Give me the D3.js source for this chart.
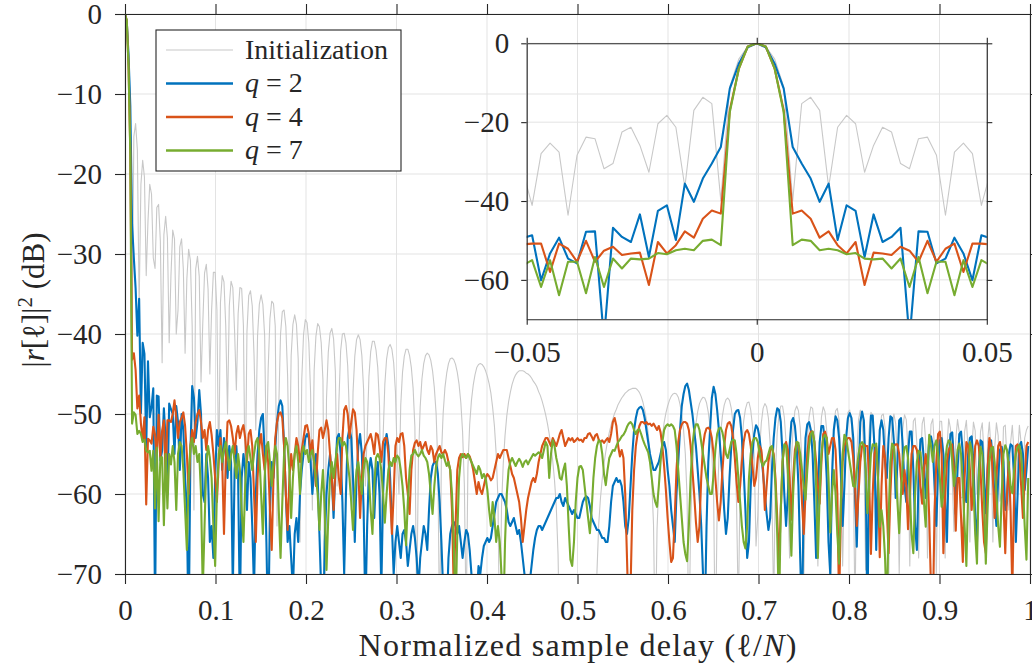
<!DOCTYPE html>
<html><head><meta charset="utf-8">
<script src="https://cdn.jsdelivr.net/npm/d3@7"></script>
<style>
body{margin:0;background:#fff}
svg{display:block}
text{font-family:"Liberation Serif","Times New Roman",serif;fill:#262626}
</style>
</head><body>
<svg id="chart" width="1032" height="667"></svg>
<script>
// number of delay samples (x = k / sampleCount)
const sampleCount = 512;
const seriesNames = ["Initialization", "q = 2", "q = 4", "q = 7"];
const seriesColors = ["#c8c8c8", "#0072BD", "#D95319", "#77AC30"];

const initialization = [
0,-0.8,-4,-11,-39.9,-15.3,-13.7,-17,-36.5,-21.3,
-18.3,-20.4,-32.7,-25.9,-21.3,-22.5,-30.5,-31.8,-24.2,-23.8,
-28.4,-43.6,-27.6,-25.3,-28,-41.1,-32.7,-27,-28.1,-40,
-37,-29.1,-28.1,-31.9,-42.4,-33.1,-29.4,-30.8,-39,-62,
-31.9,-30.3,-32.8,-46,-38.7,-32.4,-31.3,-34.4,-45,-37,
-32.3,-32.3,-37,-58,-36.1,-32.7,-33.5,-39,-50,-36.5,
-33.4,-34.2,-39.7,-47,-37.5,-34.2,-34.3,-39,-60,-39.7,
-35.2,-34.6,-36.5,-42.7,-52,-40.2,-36.3,-35.1,-36.3,-40.2,
-56,-44.3,-38.1,-35.9,-36.2,-39,-64,-49,-40,-37.2,
-37,-39.1,-45.3,-58,-42.7,-38.8,-37.6,-38.8,-43.2,-66,
-45.7,-40.1,-38.2,-38.6,-41.1,-47.3,-62,-44.6,-40.3,-38.7,
-39.1,-41.1,-45.8,-75,-48.1,-42.3,-39.9,-39.3,-40.6,-44.7,
-59,-48.5,-42.1,-40,-39.9,-41.1,-44,-50.4,-62,-47.3,
-42.8,-40.7,-40.1,-40.7,-42.7,-47,-59,-52.5,-45.3,-42.2,
-40.9,-40.9,-42,-44.2,-49,-66,-53,-46.3,-43.1,-41.7,
-41.3,-41.9,-43.6,-47.2,-55.3,-60,-48.9,-44.8,-42.8,-41.9,
-41.9,-42.7,-44.2,-46.8,-51.6,-75,-55.8,-49.1,-45.6,-43.7,
-42.7,-42.4,-42.6,-43.3,-44.6,-46.7,-49.9,-56.4,-78,-55.3,
-49.9,-46.7,-44.9,-43.7,-43.1,-43,-43.2,-43.8,-44.8,-46.3,
-48.6,-52.3,-59,-76,-56.7,-51.3,-48.3,-46.4,-45.1,-44.2,
-43.8,-43.7,-43.8,-44.1,-44.6,-45.3,-46.2,-47.4,-49.2,-51.5,
-55,-60.7,-80,-61.6,-56.2,-52.7,-50.2,-48.5,-47.3,-46.3,
-45.6,-45.1,-44.8,-44.6,-44.6,-44.6,-44.7,-44.9,-45,-45.2,
-45.5,-45.9,-46.2,-46.6,-47.2,-47.7,-48.4,-49.2,-50.1,-51.2,
-52.5,-54,-55.9,-58.3,-61.6,-67.6,-80,-80,-80,-80,
-80,-80,-80,-80,-80,-80,-80,-80,-80,-80,
-80,-80,-80,-80,-80,-80,-80,-69.8,-63.8,-60.5,
-58.1,-56.2,-54.7,-53.4,-52.3,-51.4,-50.6,-49.9,-49.4,-48.8,
-48.4,-48,-47.7,-47.4,-47.2,-47,-46.9,-46.8,-46.8,-46.8,
-47,-47.3,-47.8,-48.5,-49.5,-50.7,-52.4,-54.9,-58.4,-63.8,
-80,-64.4,-58.7,-55.2,-52.9,-51.1,-49.9,-49,-48.3,-47.8,
-47.5,-47.4,-47.5,-47.9,-48.8,-50.1,-52,-55,-60.4,-79,
-63.9,-57.2,-53.5,-51.2,-49.7,-48.7,-48.2,-47.9,-48,-48.6,
-49.8,-51.6,-54.8,-60.2,-80,-62,-55.5,-52.3,-50.2,-48.9,
-48.2,-48,-48.3,-49.3,-51.2,-54.7,-61.4,-75,-58.3,-53.5,
-50.9,-49.4,-48.6,-48.5,-49.5,-51.5,-55.6,-66.5,-62.7,-54.6,
-51.1,-49.3,-48.7,-49.1,-50.5,-53.7,-60.4,-74,-57.1,-52.3,
-50.1,-49,-49,-50.4,-53.5,-60.6,-68,-55.9,-51.6,-49.6,
-49,-49.6,-51.7,-56.2,-71,-59.7,-53.3,-50.4,-49.1,-49.3,
-51.4,-57.8,-69,-54.5,-50.4,-49.1,-49.7,-52.1,-57.9,-79,
-56.3,-51.6,-49.6,-49.3,-50.8,-55.1,-69,-58.5,-52.3,-49.8,
-49.5,-51.3,-56.9,-75,-55.1,-50.7,-49.5,-50.7,-54.5,-69.5,
-58.2,-52,-49.8,-50.1,-52.9,-62,-62.1,-53,-50.2,-50,
-51.7,-56.9,-72,-56.1,-51.2,-50,-51.2,-56.1,-70,-57,
-51.9,-50.1,-50.7,-54.5,-69,-56.3,-50.9,-50.5,-53.7,-68,
-56.7,-51.2,-50.4,-53.5,-68,-56.8,-51.3,-50.6,-54.4,-70,
-55.1,-50.9,-50.9,-55.1,-68,-54.3,-50.6,-51.8,-58.1,-64.7,
-53.2,-50.7,-52.3,-60.5,-60.4,-52.2,-50.8,-54.5,-66,-54.9,
-51,-52.1,-60,-60.1,-52.2,-51.1,-55,-64,-53.4,-51,
-54.7,-66,-54.3,-51.1,-52.7,-60.9,-59.7,-51.6,-51.4,-55.8,
-62,-53.6,-51.4,-55,-60,-55.1,-51.4,-53.7,-58,-53,
-52,-51.5];

const q2 = [
0,-1,-5.2,-11.5,-26.3,-30.5,-34.3,-40.2,-35.6,-49.9,
-41.1,-42.5,-54.2,-43.4,-50.4,-49.1,-46.8,-75,-47.7,-47.8,
-55.8,-54.6,-49.3,-53.3,-60.1,-48.7,-49.4,-50,-55,-49,
-51,-57,-50,-52,-58,-62,-78,-55,-46.5,-48,
-53,-51,-47,-50,-60,-61,-55,-58,-66,-64,
-68,-58,-52,-54,-52,-57,-53,-55,-58,-54,
-56,-72,-57,-54,-58,-75,-58,-55,-57,-62,
-56,-58,-64,-72,-60,-55,-52,-50.5,-50,-55,
-66,-78,-62,-56,-58,-54,-51,-49,-48.3,-49,
-54,-60,-66,-64,-68,-72,-65,-63,-66,-60,
-57,-55,-53,-52.5,-53,-56,-60,-57,-55,-58,
-65,-72,-78,-66,-60,-57,-55,-58,-63,-57,
-53,-52.5,-55,-61,-70,-60,-53,-51.8,-53,-58,
-66,-58,-54,-52.5,-55,-62,-75,-64,-57,-55.5,
-57,-63,-58,-56,-60,-72,-60,-54,-52.5,-54,
-58,-64,-70,-66,-64,-66,-68,-65,-64.5,-66,
-69,-67,-65,-64,-65.5,-68,-72,-68,-66,-64,
-65,-67,-62,-58,-56.5,-56,-56,-57.5,-61,-66,
-72,-78,-75,-68,-65,-64,-63.5,-64,-65,-64,
-66,-68,-66,-64.5,-65,-67,-70,-74,-80,-73,
-69,-70,-68,-66.5,-66,-65.5,-66,-65.5,-64,-62.5,
-61,-60.5,-60,-60,-60.5,-61,-62,-63.5,-64,-63.5,
-63,-64,-65,-64.5,-66,-68,-70,-72,-73,-71,
-69,-67,-65.5,-64.5,-64,-64,-64.5,-64,-63.5,-63,
-62.5,-62,-61.5,-61,-60.5,-60.5,-60,-61,-61.5,-60.5,
-61,-61.5,-62,-62.5,-62,-62.5,-63,-63,-62,-61,
-60.5,-60.3,-60.5,-61.5,-63,-63.5,-64,-64.5,-64.5,-65,
-65.5,-65.5,-66,-66,-64,-61,-59,-58.5,-58,-58.5,
-58.3,-59,-61,-64,-65,-63,-59,-55,-52,-50.5,
-49.5,-49.2,-49.1,-49.5,-50.5,-52,-53.5,-55,-56,-57,
-57,-56.5,-56,-55,-54,-53.5,-54.5,-57,-59,-62,
-64,-66,-60,-56,-52,-49,-47.5,-46.5,-46.2,-47,
-48.5,-50,-52,-54,-57,-60,-64,-70,-76,-64,
-56,-52,-48,-46.6,-47.5,-49.5,-52,-55,-58,-62,
-65,-63,-58,-54,-52,-50,-49.6,-49.5,-50.5,-53,
-57,-62,-68,-66,-59,-55,-52.5,-51.4,-51.8,-53,
-55,-57.5,-60,-62.5,-64.5,-63,-57,-53,-50.5,-49.3,
-49.5,-51,-55,-60,-64,-60,-54,-51,-50.5,-51.5,
-54,-59,-68,-76,-60,-53,-51.3,-51,-52,-55,
-61,-68,-60,-53.5,-51.5,-51.5,-53.5,-58,-66,-70,
-58,-52,-50.3,-50.8,-53,-57.5,-64,-59,-53,-50.5,
-49.9,-50.5,-53,-60,-66.6,-58,-51,-49.7,-50.8,-57,
-76,-56,-50.2,-50.2,-54,-67,-58,-52,-50.8,-52,
-56,-58,-53,-50.3,-50.5,-53.5,-60.5,-56,-50.8,-50.5,
-54,-59,-61,-55,-52.2,-52.2,-57,-64,-67,-58,
-53.2,-53,-56,-60.5,-57,-53.2,-52.8,-54,-59,-64,
-57,-53.3,-53,-55,-61,-66,-56,-52.5,-52.3,-56,
-62.5,-57,-52.5,-52.2,-55,-60,-61,-55,-53,-52.8,
-56,-63,-66,-57,-53.3,-53.5,-58,-62.4,-57,-53.5,
-53.3,-56,-61,-64,-58,-54.5,-54.1,-56,-62,-61,
-55,-53.8,-54,-58,-66,-60,-54,-53.5,-55,-59.5,
-57,-54];

const q4 = [
0,-0.8,-6.5,-17,-43.2,-42.4,-44.5,-49.3,-47.7,-51.2,
-53.3,-50.4,-61.3,-53.1,-53.3,-53.7,-51.6,-52.6,-55.4,-50.1,
-55.4,-52.1,-50.8,-58,-50.8,-50.8,-51,-50,-48.3,-50.5,
-53,-51,-50.5,-49.8,-51.5,-55,-60,-54,-52,-53.5,
-51,-50,-49.5,-51,-53,-52,-54.5,-52,-51,-52.6,
-55,-58,-61,-56,-53,-56,-65,-56,-51,-50.8,
-51.5,-53,-55,-52.5,-51.5,-53,-52,-51.4,-53,-56,
-52.5,-52,-54,-60,-66,-58,-54,-52.5,-55,-57,
-54,-56,-62,-67,-58,-53,-51,-50,-49.8,-50.5,
-54,-60,-64.5,-58,-55,-57,-55,-53,-54,-56,
-54.5,-53,-51.5,-51.4,-52.5,-55,-53.3,-56,-59,-55,
-52,-51.7,-53,-52,-50.8,-52,-55,-58,-62,-57,
-55,-58,-60,-53,-49.5,-49,-50,-53,-51,-49.4,
-49.8,-52,-57,-63,-58,-55,-54,-53.5,-53,-52.5,
-53.5,-55,-52.4,-52.6,-54,-56,-53.5,-53,-53,-55,
-60,-65,-60,-54,-53,-53.5,-52.5,-52.4,-54,-58,
-60,-62.5,-57,-54.5,-53.6,-53.3,-54,-53.5,-54.5,-54,
-53.5,-54.5,-55,-54,-54.5,-56,-55,-54.5,-54,-54.8,
-55,-54.5,-55,-56,-57,-62,-72,-64,-57,-55.5,
-55,-55.4,-55,-55.5,-55,-55.3,-56,-57,-58.5,-60,
-58.5,-59.5,-60,-59,-58,-57.5,-57.8,-58.3,-58,-57,
-56,-55,-55.5,-55,-54.5,-54.5,-54.5,-55.5,-56.5,-57.5,
-58,-59,-60,-61,-63,-66,-64,-62,-60.5,-59.5,
-58.5,-58,-58.5,-57.5,-56,-55,-54,-53.5,-53,-53,
-53.5,-54,-53,-53.5,-54,-53.3,-52.5,-52,-53,-54,
-53.5,-53,-53.3,-53,-53.5,-53.3,-53,-53.3,-53.2,-53.5,
-53,-53,-52.5,-52.4,-52.8,-53.3,-52.7,-52.5,-53.2,-53.5,
-53.3,-53.6,-53.3,-53,-53.5,-52.5,-51,-50.5,-51.5,-54,
-55.3,-54.5,-55.5,-60,-68,-76,-72,-62,-57,-54,
-52.5,-51.5,-51,-51,-51.2,-51,-51.3,-51.2,-51.5,-51.2,
-51.6,-52,-51.5,-52.3,-54,-56.5,-59.5,-63,-66,-68.5,
-68,-63,-57,-53.5,-52,-51.3,-51,-51,-51.2,-52,
-54,-57,-60,-63.5,-66,-64,-58,-54,-52.5,-51.8,
-51.7,-52,-53,-55,-58,-61,-63.3,-61,-57,-54,
-52,-51.2,-51,-51.5,-53,-55.5,-58.5,-61,-59,-56,
-53.5,-52.3,-52,-52.5,-54,-56.5,-59,-58,-55.5,-54,
-54.5,-57,-62,-59,-56,-54.5,-54.2,-55,-58,-63,
-68.6,-62,-56,-54,-53.5,-54.5,-58,-63.2,-58,-54.5,
-53.5,-54,-56.5,-61,-65,-60,-55,-52.8,-52.2,-52.2,
-53.5,-56,-59,-61.2,-56,-52.5,-52.2,-53,-55,-54,
-53,-53,-54.5,-60,-74,-62,-56,-54,-53.3,-53,
-53,-53.5,-55.5,-59,-64,-60,-56,-54,-53.8,-54,
-54,-58,-67.5,-60,-55,-54,-58,-67.9,-59,-54,
-55.5,-62,-67.4,-60,-55,-54,-53.8,-53.8,-55,-58,
-60,-57,-59,-64.4,-60,-55,-54,-54,-54.5,-56,
-59,-61.2,-57,-55,-57,-63,-72,-76,-62,-56,
-52.5,-52.2,-55,-67.4,-60,-56,-54.5,-54,-53.8,-57,
-64.6,-58,-58,-63,-68.5,-58,-53.5,-54,-57,-62,
-58,-54,-53.3,-54,-57,-62,-66,-67.4,-57,-53,
-54,-58,-63,-58,-54,-53.5,-55,-61,-67.4,-60,
-56,-62,-72,-60,-54,-53.8,-55,-59,-63,-58,
-54,-53.5];

const q7 = [
0,-0.8,-6.5,-17.5,-51.2,-49.8,-50.1,-52.5,-52.1,-52.5,
-53.5,-53.2,-54.6,-54.8,-54.6,-57.1,-54.6,-61.8,-54.2,-63.4,
-55.4,-55.4,-63.9,-55,-61.8,-55,-56.3,-54,-56,-62,
-55,-53.5,-54,-57,-62,-67,-58,-54,-53,-55,
-54,-56,-55,-60,-72,-64,-56,-54,-55.5,-58,
-64,-69,-60,-55,-54,-56,-54.5,-53.5,-55,-57,
-55,-54,-56,-58,-55,-57,-62,-66,-59,-55,
-54,-55.5,-57,-55,-53.5,-53,-55,-60,-65,-58,
-54,-53.5,-56,-59,-56,-54,-55,-62,-68,-61,
-55,-53,-54,-57,-63,-58,-55,-54,-56,-60,
-55,-54,-55,-54.5,-56,-55,-54.5,-56,-58,-60,
-64.5,-60,-57,-62,-69.5,-63,-58,-56,-58,-56,
-54,-53,-53,-54,-53.5,-54,-56,-58,-61,-64.5,
-60,-57,-56,-58,-60,-57,-55.5,-56,-58,-62,
-65,-59,-55.5,-55,-55.5,-57,-60,-63.6,-60,-57,
-56,-56.5,-55.5,-56,-55.2,-55.5,-57,-59,-62,-66.4,
-61,-57,-55.2,-55,-54.5,-55,-55.3,-55,-54.5,-55.2,
-55.5,-56,-57.5,-60,-62.5,-59,-56.5,-55.5,-55,-55.5,
-55,-55.8,-56.5,-56,-57,-60,-66,-75,-65,-58,
-55.5,-55,-55.3,-55.5,-55,-55.5,-56,-56.5,-57,-57.5,
-56.5,-57,-58,-57.5,-58,-59.5,-62,-64,-61,-63,
-66,-64,-66,-70,-76,-66,-60,-57,-56,-55.5,
-56,-56.5,-56,-55.6,-56,-56.6,-56,-55.8,-56.3,-55.8,
-55.4,-55,-55.2,-55,-54.8,-55,-55.5,-54.5,-53.5,-54,
-58,-55,-53.3,-54,-55.5,-56.5,-58,-58.2,-57,-56.2,
-59,-64,-68.2,-69,-66,-61,-58,-56.6,-56.5,-57,
-59,-61,-63,-64.9,-62,-58,-55.5,-54,-53.3,-53.5,
-55,-57.5,-58.9,-57,-55.5,-55,-54.5,-54.6,-54,-53.5,
-53.2,-52.8,-52.6,-52.2,-51.6,-51.2,-51,-51.3,-52,-52.5,
-52,-51.9,-52.5,-53.2,-53.8,-54.3,-54.8,-56,-58,-60,
-61,-61.6,-59,-56,-53.5,-52,-51.5,-51.3,-51.5,-51.3,
-51.5,-52,-54,-57,-60,-63,-66,-67.5,-68.4,-64,
-58,-54,-52,-51.3,-51.3,-52,-53.5,-55,-56.5,-58,
-59,-60,-60,-57.5,-54.5,-52.5,-51.8,-51.7,-52.3,-53.5,
-55,-55.5,-54.5,-53.5,-53.2,-53.3,-55,-58,-61,-64,
-66,-66.8,-64,-58,-55,-53.5,-53,-53,-53.5,-55,
-56,-56.5,-56,-55.8,-55,-54.2,-54,-55.5,-59,-65,
-75,-62,-56,-53.8,-54,-57,-62,-67.7,-60,-55.5,
-53.5,-53.6,-55,-57,-59,-60.7,-57,-54,-52.5,-52.2,
-53.5,-59,-68,-60,-55,-53,-52.6,-53,-58,-64.8,
-60,-57,-60,-65,-68.7,-61,-55,-52.6,-53,-54.5,
-56,-57.5,-59,-59.1,-57,-55,-53.8,-53.5,-54,-57,
-62.4,-59,-55,-53.8,-54,-53.7,-58,-64.1,-62,-64,
-68,-75,-63,-56,-53.7,-54,-57,-61,-64.9,-60,
-56,-54.2,-54,-55.5,-60,-65,-67.4,-60,-56,-54.6,
-54.8,-57,-61,-64.1,-57,-52.6,-54,-56,-54,-53.3,
-55,-58,-61.6,-60,-56,-54,-53.3,-53.5,-56,-59,
-57,-54.5,-53.7,-55,-59,-64,-69,-60,-53.5,-54.5,
-59,-65,-68.7,-58,-54.1,-55,-61,-68.7,-62,-56,
-54.3,-54.1,-56,-60,-64,-66.6,-60,-55,-53.9,-54.5,
-56.5,-59,-59.9,-57,-55,-54.2,-53.9,-55,-59,-64,
-68.2,-58];

const xTickValues = [0, 0.1, 0.2, 0.3, 0.4, 0.5, 0.6, 0.7, 0.8, 0.9, 1];
const xTickLabels = ["0", "0.1", "0.2", "0.3", "0.4", "0.5", "0.6", "0.7", "0.8", "0.9", "1"];
const yTickValues = [0, -10, -20, -30, -40, -50, -60, -70];
const yTickLabels = ["0", "\u221210", "\u221220", "\u221230", "\u221240", "\u221250", "\u221260", "\u221270"];
const insetXTickValues = [-0.05, 0, 0.05];
const insetXTickLabels = ["\u22120.05", "0", "0.05"];
const insetYTickValues = [0, -20, -40, -60];
const insetYTickLabels = ["0", "\u221220", "\u221240", "\u221260"];
const insetHalfSpan = 26; // samples shown on each side of zero lag

const allSeries = [initialization, q2, q4, q7];
const AX = "#262626", GRID = "#e3e3e3";

const svg = d3.select("#chart");
svg.append("rect").attr("width", 1032).attr("height", 667).attr("fill", "#fff");

// ---------- main axes ----------
const M = {left: 125, right: 1030, top: 14, bottom: 574};
const x = d3.scaleLinear().domain([0, 1]).range([M.left, M.right]);
const y = d3.scaleLinear().domain([-70, 0]).range([M.bottom, M.top]);

const defs = svg.append("defs");
defs.append("clipPath").attr("id", "clipMain").append("rect")
  .attr("x", M.left).attr("y", M.top).attr("width", M.right - M.left).attr("height", M.bottom - M.top);

const grid = svg.append("g");
grid.selectAll("line.gx").data(xTickValues).join("line")
  .attr("x1", d => x(d)).attr("x2", d => x(d)).attr("y1", M.top).attr("y2", M.bottom)
  .attr("stroke", GRID).attr("stroke-width", 1);
grid.selectAll("line.gy").data(yTickValues).join("line").attr("class", "gy")
  .attr("y1", d => y(d)).attr("y2", d => y(d)).attr("x1", M.left).attr("x2", M.right)
  .attr("stroke", GRID).attr("stroke-width", 1);

function styleAxis(g, fontSize) {
  g.attr("font-family", null).attr("font-size", null);
  g.select(".domain").attr("stroke", AX).attr("stroke-width", 1.1);
  g.selectAll(".tick line").attr("stroke", AX).attr("stroke-width", 1.1);
  g.selectAll(".tick text").attr("fill", AX).style("font-size", fontSize + "px");
}

const lineMain = d3.line().x((d, i) => x(i / sampleCount)).y(d => y(d));
const plotG = svg.append("g").attr("clip-path", "url(#clipMain)");
allSeries.forEach((s, si) => {
  plotG.append("path").datum(s).attr("d", lineMain).attr("fill", "none")
    .attr("stroke", seriesColors[si]).attr("stroke-width", si === 0 ? 1.1 : 2.1)
    .attr("stroke-linejoin", "round");
});

const gxB = svg.append("g").attr("transform", `translate(0,${M.bottom})`)
  .call(d3.axisBottom(x).tickValues(xTickValues).tickFormat((d, i) => xTickLabels[i]).tickSize(10).tickSizeOuter(0));
styleAxis(gxB, 29);
gxB.selectAll(".tick text").attr("y", 46).attr("dy", null);
const gxT = svg.append("g").attr("transform", `translate(0,${M.top})`)
  .call(d3.axisTop(x).tickValues(xTickValues).tickFormat("").tickSize(10).tickSizeOuter(0));
styleAxis(gxT, 29);
const gyL = svg.append("g").attr("transform", `translate(${M.left},0)`)
  .call(d3.axisLeft(y).tickValues(yTickValues).tickFormat((d, i) => yTickLabels[i]).tickSize(10).tickPadding(13).tickSizeOuter(0));
styleAxis(gyL, 29);
const gyR = svg.append("g").attr("transform", `translate(${M.right},0)`)
  .call(d3.axisRight(y).tickValues(yTickValues).tickFormat("").tickSize(10).tickSizeOuter(0));
styleAxis(gyR, 29);

// axis labels
const xl = svg.append("text").attr("x", (M.left + M.right) / 2).attr("y", 656)
  .attr("text-anchor", "middle").style("font-size", "32px")
  .attr("textLength", 438).attr("lengthAdjust", "spacing");
xl.append("tspan").text("Normalized sample delay (\u2113/");
xl.append("tspan").attr("font-style", "italic").text("N");
xl.append("tspan").text(")");

const yl = svg.append("text").attr("transform", "translate(44,300) rotate(-90)")
  .attr("text-anchor", "middle").style("font-size", "31px");
yl.append("tspan").text("|");
yl.append("tspan").attr("font-style", "italic").text("r");
yl.append("tspan").text("[\u2113]|");
yl.append("tspan").attr("dy", -12).style("font-size", "21px").text("2");
yl.append("tspan").attr("dy", 12).text(" (dB)");

// ---------- legend ----------
const leg = svg.append("g");
leg.append("rect").attr("x", 156).attr("y", 30).attr("width", 245).attr("height", 141)
  .attr("fill", "#fff").attr("stroke", AX).attr("stroke-width", 1.1);
const legRows = [50, 83.5, 117, 150.5];
seriesNames.forEach((name, i) => {
  leg.append("line").attr("x1", 166).attr("x2", 233).attr("y1", legRows[i]).attr("y2", legRows[i])
    .attr("stroke", seriesColors[i]).attr("stroke-width", i === 0 ? 1.1 : 2.3);
  const t = leg.append("text").attr("x", 245).attr("y", legRows[i] + 8.5).style("font-size", "28px");
  if (i === 0) t.text(name);
  else {
    const parts = name.split(" ");
    t.append("tspan").attr("font-style", "italic").text(parts[0]);
    t.append("tspan").text(" " + parts[1] + " " + parts[2]);
  }
});

// ---------- inset ----------
const I = {left: 526.7, right: 986.8, top: 43.3, bottom: 319.3};
const ix = d3.scaleLinear().domain([-0.05, 0.05]).range([I.left, I.right]);
const iy = d3.scaleLinear().domain([-70, 0]).range([I.bottom, I.top]);
defs.append("clipPath").attr("id", "clipInset").append("rect")
  .attr("x", I.left).attr("y", I.top).attr("width", I.right - I.left).attr("height", I.bottom - I.top);

const ig = svg.append("g");
ig.selectAll("line.igx").data(insetXTickValues).join("line").attr("class", "igx")
  .attr("x1", d => ix(d)).attr("x2", d => ix(d)).attr("y1", I.top).attr("y2", I.bottom)
  .attr("stroke", GRID).attr("stroke-width", 1);
ig.selectAll("line.igy").data(insetYTickValues).join("line").attr("class", "igy")
  .attr("y1", d => iy(d)).attr("y2", d => iy(d)).attr("x1", I.left).attr("x2", I.right)
  .attr("stroke", GRID).attr("stroke-width", 1);

const lags = d3.range(-insetHalfSpan, insetHalfSpan + 1);
const lineInset = d3.line().x(d => ix(d[0] / sampleCount)).y(d => iy(d[1]));
const insetPlot = ig.append("g").attr("clip-path", "url(#clipInset)");
allSeries.forEach((s, si) => {
  const pts = lags.map(k => [k, s[Math.abs(k)]]);
  insetPlot.append("path").datum(pts).attr("d", lineInset).attr("fill", "none")
    .attr("stroke", seriesColors[si]).attr("stroke-width", si === 0 ? 1.1 : 2.1)
    .attr("stroke-linejoin", "round");
});

const ixB = ig.append("g").attr("transform", `translate(0,${I.bottom})`)
  .call(d3.axisBottom(ix).tickValues(insetXTickValues).tickFormat((d, i) => insetXTickLabels[i]).tickSize(5.5).tickSizeOuter(0));
styleAxis(ixB, 29);
ixB.selectAll(".tick text").attr("y", 42.7).attr("dy", null);
const ixT = ig.append("g").attr("transform", `translate(0,${I.top})`)
  .call(d3.axisTop(ix).tickValues(insetXTickValues).tickFormat("").tickSize(5.5).tickSizeOuter(0));
styleAxis(ixT, 29);
const iyL = ig.append("g").attr("transform", `translate(${I.left},0)`)
  .call(d3.axisLeft(iy).tickValues(insetYTickValues).tickFormat((d, i) => insetYTickLabels[i]).tickSize(5.5).tickPadding(12).tickSizeOuter(0));
styleAxis(iyL, 29);
const iyR = ig.append("g").attr("transform", `translate(${I.right},0)`)
  .call(d3.axisRight(iy).tickValues(insetYTickValues).tickFormat("").tickSize(5.5).tickSizeOuter(0));
styleAxis(iyR, 29);
</script>
</body></html>
